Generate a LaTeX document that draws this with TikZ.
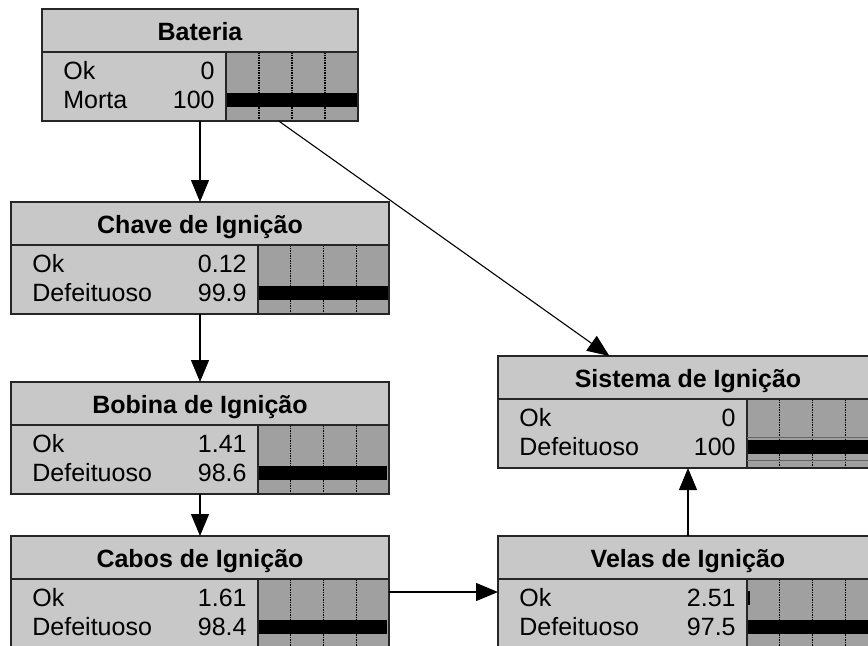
\documentclass[tikz,border=0pt]{standalone}
\usepackage{fontspec}
\setmainfont{Liberation Sans}
\usetikzlibrary{calc,arrows.meta}

\definecolor{cinzaclaro}{RGB}{200,200,200}
\definecolor{cinzabarra}{RGB}{160,160,160}

% corpo de um no: #1 nome, #2 inicio das barras, #3 titulo,
% #4/#5 e #6/#7 estados e valores, #8/#9 fracoes das barras
\newcommand{\corpo}[9]{%
  \coordinate (#1-sep) at ([yshift=-21.5pt]#1.north west);
  \coordinate (#1-bar) at ([xshift=#2]#1-sep);
  \coordinate (#1-fim) at (#1-sep -| #1.east);
  \fill[cinzabarra] (#1-bar) rectangle (#1.south east);
  \foreach \q in {0.25,0.5,0.75}
    \draw[grade] ($(#1-bar)!\q!(#1-fim)$) -- ++(0pt,-34.5pt);
  \fill[black] ([yshift=-6pt]#1-bar) rectangle ($([yshift=-13pt]#1-bar)!#8!([yshift=-13pt]#1-fim)$);
  \fill[black] ([yshift=-20.5pt]#1-bar) rectangle ($([yshift=-27.5pt]#1-bar)!#9!([yshift=-27.5pt]#1-fim)$);
  \draw[borda] (#1-sep) -- (#1-fim);
  \draw[borda] (#1-bar) -- (#1-bar |- #1.south);
  \draw[borda] (#1.north west) rectangle (#1.south east);
  \node[titulo] at ([yshift=-15.5pt]#1.north) {#3};
  \node[rotulo] at ([xshift=10.5pt, yshift=-13.5pt]#1-sep) {#4};
  \node[valor] at ([xshift=-5.5pt, yshift=-13.5pt]#1-bar) {#5};
  \node[rotulo] at ([xshift=10.5pt, yshift=-28pt]#1-sep) {#6};
  \node[valor] at ([xshift=-5.5pt, yshift=-28pt]#1-bar) {#7};
}

\begin{document}
\begin{tikzpicture}[x=0.5pt, y=-0.5pt,
    every node/.style={font=\fontsize{12.5}{15}\selectfont},
    caixa/.style={fill=cinzaclaro, minimum height=56pt, inner sep=0pt, outer sep=0pt},
    borda/.style={draw=black!85, line width=0.75pt},
    grade/.style={black, line width=0.6pt, dash pattern=on 0.75pt off 0.5pt},
    titulo/.style={anchor=base, inner sep=0pt, font=\fontsize{12.5}{15}\selectfont\bfseries},
    rotulo/.style={anchor=base west, inner sep=0pt},
    valor/.style={anchor=base east, inner sep=0pt},
    seta/.style={-{Triangle[width=9pt, length=11pt]}, line width=0.55pt}
]
\clip (0,0) rectangle (868,645);
% Nos
\node[caixa, minimum width=158pt] (bateria) at (200,65) {};
\node[caixa, minimum width=189pt] (chave) at (200,258) {};
\node[caixa, minimum width=189pt] (bobina) at (200,438) {};
\node[caixa, minimum width=189pt] (cabos) at (200,592) {};
\node[caixa, minimum width=190pt] (sistema) at (688,412) {};
\node[caixa, minimum width=190pt] (velas) at (688,592) {};
% Tabelas
\corpo{bateria}{92pt}{Bateria}{Ok}{0}{Morta}{100}{0}{1}
\corpo{chave}{123.5pt}{Chave de Ignição}{Ok}{0.12}{Defeituoso}{99.9}{0}{0.999}
\corpo{bobina}{123.5pt}{Bobina de Ignição}{Ok}{1.41}{Defeituoso}{98.6}{0}{0.986}
\corpo{cabos}{123.5pt}{Cabos de Ignição}{Ok}{1.61}{Defeituoso}{98.4}{0}{0.984}
\corpo{sistema}{124.5pt}{Sistema de Ignição}{Ok}{0}{Defeituoso}{100}{0}{1}
\corpo{velas}{124.5pt}{Velas de Ignição}{Ok}{2.51}{Defeituoso}{97.5}{0.0251}{0.975}
% evidencia em Sistema
\draw[black!60, line width=0.5pt] ([yshift=-19pt]sistema-bar) -- ([yshift=-19pt]sistema-fim);
\draw[black!60, line width=0.5pt] ([yshift=-30.5pt]sistema-bar) -- ([yshift=-30.5pt]sistema-fim);
% Arestas
\draw[seta] (bateria) -- (chave);
\draw[seta] (bateria) -- (sistema);
\draw[seta] (chave) -- (bobina);
\draw[seta] (bobina) -- (cabos);
\draw[seta] (cabos) -- (velas);
\draw[seta] (velas) -- (sistema);
\end{tikzpicture}
\end{document}
